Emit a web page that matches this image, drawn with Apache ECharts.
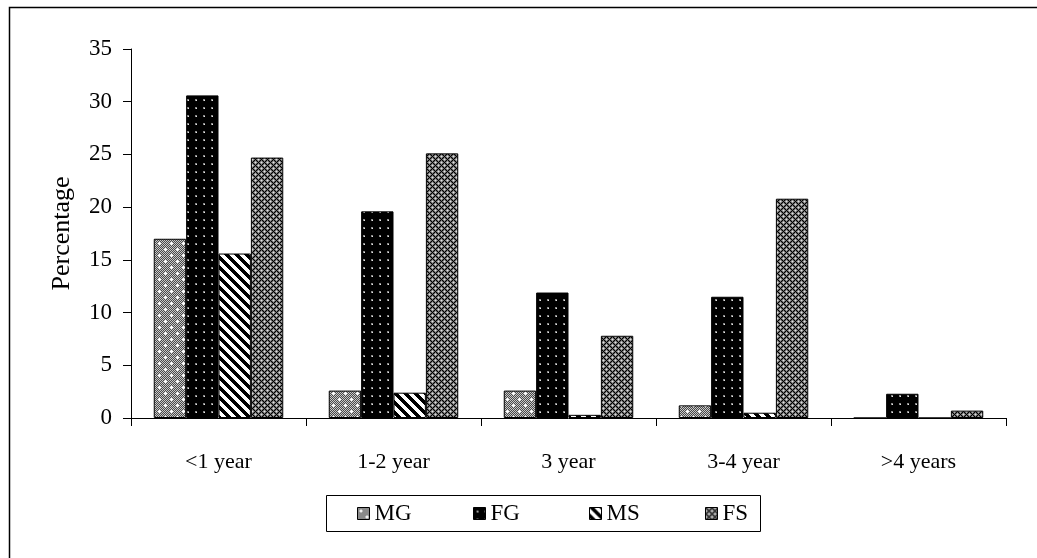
<!DOCTYPE html>
<html>
<head>
<meta charset="utf-8">
<title>Percentage by duration</title>
<script src="https://cdn.jsdelivr.net/npm/echarts@6/dist/echarts.min.js"></script>
<style>
  html, body { margin: 0; padding: 0; background: #fff; }
  #chart { width: 1037px; height: 558px; }
</style>
</head>
<body>
<div id="chart"></div>
<script>
// Duration groups along the x axis
const categories = ['<1 year', '1-2 year', '3 year', '3-4 year', '>4 years'];

// Percentages per group
const mgValues = [17.0, 2.6, 2.6, 1.2, 0];
const fgValues = [30.6, 19.6, 11.9, 11.5, 2.3];
const msValues = [15.6, 2.4, 0.3, 0.5, 0];
const fsValues = [24.7, 25.1, 7.8, 20.8, 0.7];

const seriesNames = ['MG', 'FG', 'MS', 'FS'];
const yTicks = { min: 0, max: 35, step: 5 };

// ---- fill patterns (pixel tiles) ----
function tile(w, h, pixel) {
  const c = document.createElement('canvas');
  c.width = w; c.height = h;
  const ctx = c.getContext('2d');
  for (let y = 0; y < h; y++) {
    for (let x = 0; x < w; x++) {
      ctx.fillStyle = pixel(x, y);
      ctx.fillRect(x, y, 1, 1);
    }
  }
  return { image: c, repeat: 'repeat' };
}

// grey dither with white sparkles
const mgFill = tile(12, 12, (x, y) => {
  const plus = (cx, cy) => (x === cx && Math.abs(y - cy) <= 1) || (y === cy && Math.abs(x - cx) <= 1);
  if (plus(3, 3) || plus(9, 9)) return '#ffffff';
  return (x + y) % 2 ? '#4a4a4a' : '#c8c8c8';
});

// black with small light dots
const fgFill = tile(8, 8, (x, y) => {
  if (x === 4 && y === 4) return '#e6e6e6';
  if ((x === 3 || x === 4) && (y === 3 || y === 4)) return '#8a8a8a';
  return '#000000';
});

// white with wide black diagonal stripes
const msFill = tile(10, 10, (x, y) => {
  const d = ((x - y) % 10 + 10) % 10;
  return d < 5 ? '#000000' : '#ffffff';
});

// grey cross-hatch
const fsFill = tile(6, 6, (x, y) => {
  const d1 = (x + y) % 6;
  const d2 = ((x - y) % 6 + 6) % 6;
  if (d1 === 0 || d2 === 0) return '#000000';
  if (d1 === 3 && d2 === 3) return '#e0e0e0';
  return (x + y) % 2 ? '#6a6a6a' : '#a8a8a8';
});

const fills = [mgFill, fgFill, msFill, fsFill];
const values = [mgValues, fgValues, msValues, fsValues];

const FONT = '"Liberation Serif", "Times New Roman", serif';

// one legend entry per series, evenly spaced inside a shared frame
const legendLeft = 357;
const legendStep = 116;
const legends = seriesNames.map((name, i) => ({
  data: [name],
  left: legendLeft + i * legendStep,
  top: 502,
  itemWidth: 12,
  itemHeight: 12,
  padding: 0,
  icon: 'rect',
  selectedMode: false,
  textStyle: { color: '#000', fontFamily: FONT, fontSize: 23 },
  itemStyle: { borderColor: '#000', borderWidth: 1 }
}));

const chart = echarts.init(document.getElementById('chart'), null, { renderer: 'canvas' });

chart.setOption({
  backgroundColor: '#ffffff',
  animation: false,
  grid: { left: 131, right: 31, top: 49, bottom: 140, containLabel: false },
  xAxis: {
    type: 'category',
    data: categories,
    axisLine: { show: true, lineStyle: { color: '#000', width: 1 } },
    axisTick: { show: true, alignWithLabel: false, length: 8, lineStyle: { color: '#000' } },
    axisLabel: { color: '#000', fontFamily: FONT, fontSize: 22, margin: 33 },
    splitLine: { show: false }
  },
  yAxis: {
    type: 'value',
    min: yTicks.min,
    max: yTicks.max,
    interval: yTicks.step,
    name: 'Percentage',
    nameLocation: 'middle',
    nameGap: 56,
    nameRotate: 90,
    nameTextStyle: { color: '#000', fontFamily: FONT, fontSize: 26 },
    axisLine: { show: true, lineStyle: { color: '#000', width: 1 } },
    axisTick: { show: true, length: 8, lineStyle: { color: '#000' } },
    axisLabel: { color: '#000', fontFamily: FONT, fontSize: 23, margin: 19 },
    splitLine: { show: false }
  },
  legend: legends,
  graphic: [
    // legend frame
    { type: 'rect', shape: { x: 326.5, y: 495.5, width: 434, height: 36 },
      style: { fill: null, stroke: '#000', lineWidth: 1 }, silent: true },
    // outer frame
    { type: 'polyline', shape: { points: [[9.5, 558], [9.5, 7.5], [1037, 7.5]] },
      style: { fill: null, stroke: '#000', lineWidth: 1.5 }, silent: true }
  ],
  series: seriesNames.map((name, i) => ({
    name: name,
    type: 'bar',
    data: values[i],
    barGap: '0%',
    barCategoryGap: '26%',
    itemStyle: { color: fills[i], borderColor: '#000', borderWidth: 1 }
  }))
});
</script>
</body>
</html>
